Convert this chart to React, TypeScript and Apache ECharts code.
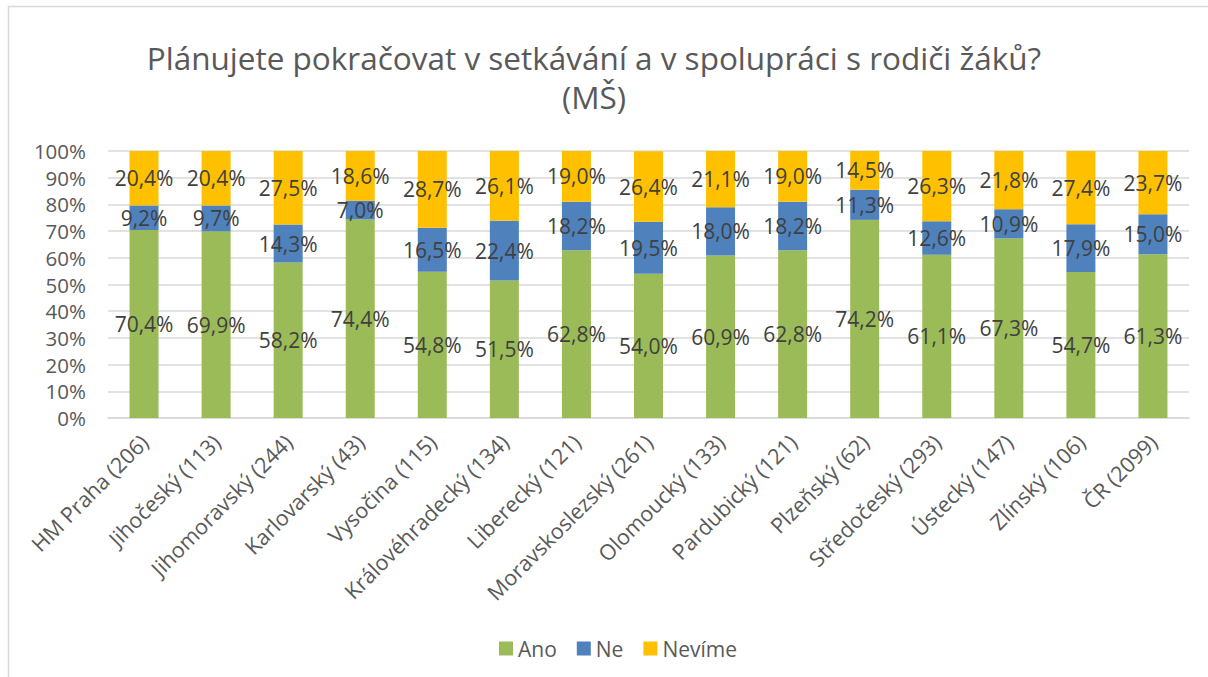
import React, { useEffect, useRef } from "react";
import * as echarts from "echarts";

const categories = [
  "HM Praha (206)",
  "Jihočeský (113)",
  "Jihomoravský (244)",
  "Karlovarský (43)",
  "Vysočina (115)",
  "Královéhradecký (134)",
  "Liberecký (121)",
  "Moravskoslezský (261)",
  "Olomoucký (133)",
  "Pardubický (121)",
  "Plzeňský (62)",
  "Středočeský (293)",
  "Ústecký (147)",
  "Zlínský (106)",
  "ČR (2099)",
];
const ano = [70.4, 69.9, 58.2, 74.4, 54.8, 51.5, 62.8, 54.0, 60.9, 62.8, 74.2, 61.1, 67.3, 54.7, 61.3];
const ne = [9.2, 9.7, 14.3, 7.0, 16.5, 22.4, 18.2, 19.5, 18.0, 18.2, 11.3, 12.6, 10.9, 17.9, 15.0];
const nevime = [20.4, 20.4, 27.5, 18.6, 28.7, 26.1, 19.0, 26.4, 21.1, 19.0, 14.5, 26.3, 21.8, 27.4, 23.7];
const seriesNames = ["Ano", "Ne", "Nevíme"];
const colors = ["#9BBB59", "#4F81BD", "#FFC000"];
const titleText = "Plánujete pokračovat v setkávání a v spolupráci s rodiči žáků?\n(MŠ)";

const FONT = "'Open Sans', Lato, sans-serif";

export default function App() {
  const ref = useRef<HTMLDivElement>(null);
  useEffect(() => {
    if (!ref.current) return;
    const chart = echarts.init(ref.current, null, { renderer: "svg" });
    const fmt = (p: any) => p.value.toFixed(1).replace(".", ",") + "%";
    const data = [ano, ne, nevime];
    chart.setOption({
      animation: false,
      backgroundColor: "#ffffff",
      textStyle: { fontFamily: FONT },
      title: {
        text: titleText,
        left: 589,
        textAlign: "center",
        top: 33,
        textStyle: {
          fontFamily: FONT,
          fontSize: 31.5,
          fontWeight: "normal",
          color: "#595959",
          lineHeight: 39,
        },
      },
      graphic: [
        {
          type: "rect",
          shape: { x: 8.5, y: 6.5, width: 1300, height: 800 },
          style: { fill: "none", stroke: "#d9d9d9", lineWidth: 1.5 },
          silent: true,
        },
      ],
      legend: {
        bottom: 13,
        left: 494,
        itemWidth: 14,
        itemHeight: 14,
        itemGap: 20,
        icon: "rect",
        textStyle: { fontFamily: FONT, fontSize: 21, color: "#595959" },
        data: seriesNames,
      },
      grid: { left: 108, right: 19, top: 151, bottom: 259, containLabel: false },
      xAxis: {
        type: "category",
        data: categories,
        axisLine: { lineStyle: { color: "#d9d9d9", width: 1.5 } },
        axisTick: { show: false },
        axisLabel: {
          rotate: 45,
          interval: 0,
          fontFamily: FONT,
          fontSize: 21.5,
          color: "#595959",
          margin: 20,
        },
      },
      yAxis: {
        type: "value",
        min: 0,
        max: 100,
        interval: 10,
        axisLine: { show: false },
        axisTick: { show: false },
        splitLine: { lineStyle: { color: "#d9d9d9", width: 1.5 } },
        axisLabel: {
          formatter: (v: number) => v + "%",
          fontFamily: FONT,
          fontSize: 20.5,
          color: "#595959",
          margin: 22,
        },
      },
      series: seriesNames.map((name, i) => ({
        name,
        type: "bar",
        stack: "total",
        barWidth: 29,
        data: data[i],
        itemStyle: { color: colors[i] },
        label: {
          show: true,
          position: "inside",
          formatter: fmt,
          fontFamily: FONT,
          fontSize: 21,
          color: "#404040",
        },
      })),
    });
    return () => chart.dispose();
  }, []);
  return (
    <div
      ref={ref}
      style={{ position: "absolute", left: 0, top: 0, width: 1208, height: 677 }}
    />
  );
}
